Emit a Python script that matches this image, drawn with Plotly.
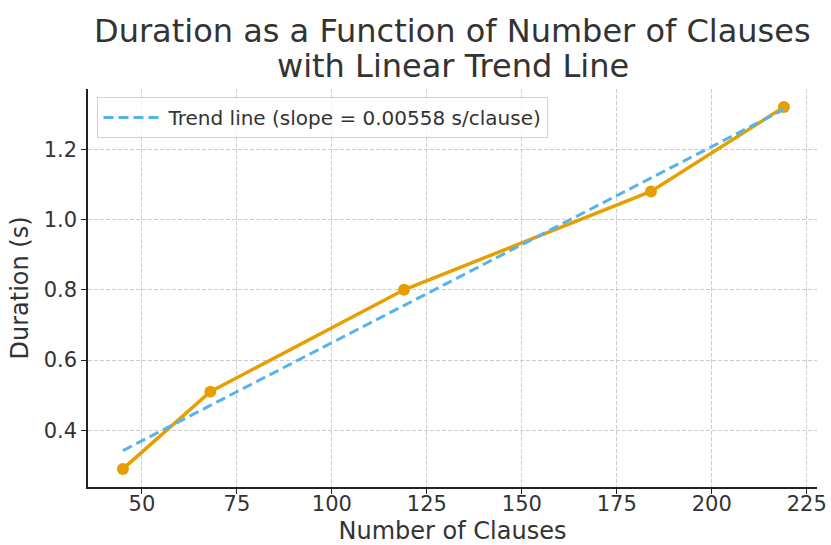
import numpy as np
import plotly.graph_objects as go

clauses = [45, 68, 119, 184, 219]
duration = [0.29, 0.51, 0.80, 1.08, 1.32]
x_ticks = [50, 75, 100, 125, 150, 175, 200, 225]
y_ticks = [0.4, 0.6, 0.8, 1.0, 1.2]

slope, intercept = np.polyfit(clauses, duration, 1)
trend_x = [min(clauses), max(clauses)]
trend_y = [slope * v + intercept for v in trend_x]

fig = go.Figure()
fig.add_trace(go.Scatter(
    x=clauses, y=duration, mode="lines+markers",
    line=dict(color="#E69F00", width=3.5),
    marker=dict(color="#E69F00", size=12),
    showlegend=False,
))
fig.add_trace(go.Scatter(
    x=trend_x, y=trend_y, mode="lines",
    line=dict(color="#56B4E9", width=3, dash="10px,5px"),
    name=f"Trend line (slope = {slope:.5f} s/clause)",
))

font = "DejaVu Sans, sans-serif"
title_lines = ["Duration as a Function of Number of Clauses", "with Linear Trend Line"]
fig.update_layout(
    width=831, height=545,
    margin=dict(l=88, r=14, t=89, b=58),
    paper_bgcolor="white", plot_bgcolor="white",
    font=dict(family=font, color="#333333"),
    legend=dict(
        x=0.013, y=0.98, xanchor="left", yanchor="top",
        bgcolor="rgba(255,255,255,0.8)", bordercolor="#d0d0d0", borderwidth=1,
        font=dict(size=20, color="#333333"), itemwidth=60,
    ),
    xaxis=dict(
        range=[35.8, 227.7], tickvals=x_ticks, automargin=False,
        showline=True, linecolor="#222222", linewidth=1.5,
        ticks="outside", ticklen=5, tickcolor="#222222",
        ticklabelstandoff=-8,
        showgrid=True, gridcolor="#cccccc", griddash="4px,2px", gridwidth=1,
        zeroline=False, tickfont=dict(size=21),
        title=dict(text="Number of Clauses", font=dict(size=24), standoff=11),
    ),
    yaxis=dict(
        range=[0.2385, 1.3715], tickvals=y_ticks, tickformat=".1f", automargin=False,
        showline=True, linecolor="#222222", linewidth=1.5,
        ticks="outside", ticklen=5, tickcolor="#222222",
        showgrid=True, gridcolor="#cccccc", griddash="4px,2px", gridwidth=1,
        zeroline=False, tickfont=dict(size=21),
        title=dict(text="Duration (s)", font=dict(size=24), standoff=8),
    ),
)
for i, line in enumerate(title_lines):
    fig.add_annotation(
        text=line, xref="paper", yref="paper", x=0.5, y=1,
        xanchor="center", yanchor="middle", yshift=58 - 35 * i,
        showarrow=False, font=dict(size=32, color="#333333", family=font),
    )

fig.write_html(
    "out.html",
    config={"displayModeBar": False},
    post_script="document.body.style.margin='0';document.body.style.padding='0';",
)
